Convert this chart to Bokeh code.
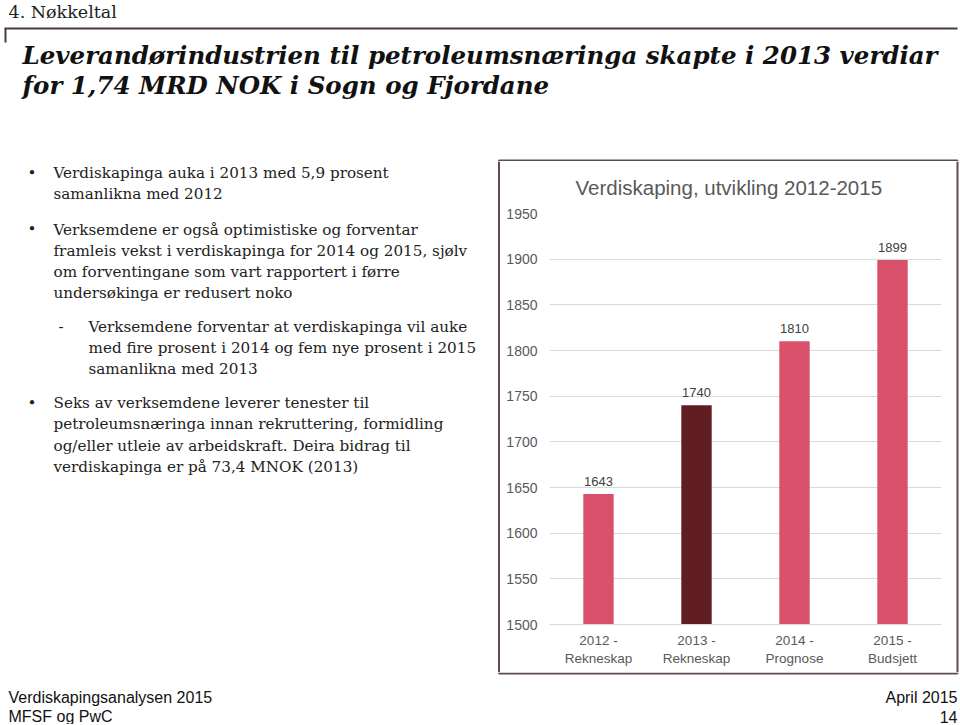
from bokeh.plotting import figure
from bokeh.layouts import column, row
from bokeh.models import Range1d, FactorRange, ColumnDataSource, FixedTicker
from bokeh.core.properties import value
from bokeh.embed import file_html
from bokeh.resources import INLINE

# ---------------- data ----------------
categories = ["2012 -\nRekneskap", "2013 -\nRekneskap", "2014 -\nPrognose", "2015 -\nBudsjett"]
values = [1643, 1740, 1810, 1899]
bar_colors = ["#D9506B", "#611E22", "#D9506B", "#D9506B"]
y_ticks = [1500, 1550, 1600, 1650, 1700, 1750, 1800, 1850, 1900, 1950]
y_start, y_end = 1500, 1950
chart_title = "Verdiskaping, utvikling 2012-2015"

section_label = "4. Nøkkeltal"
slide_title = ["Leverandørindustrien til petroleumsnæringa skapte i 2013 verdiar",
               "for 1,74 MRD NOK i Sogn og Fjordane"]
bullet1 = ["Verdiskapinga auka i 2013 med 5,9 prosent", "samanlikna med 2012"]
bullet2 = ["Verksemdene er også optimistiske og forventar",
           "framleis vekst i verdiskapinga for 2014 og 2015, sjølv",
           "om forventingane som vart rapportert i førre",
           "undersøkinga er redusert noko"]
sub1 = ["Verksemdene forventar at verdiskapinga vil auke",
        "med fire prosent i 2014 og fem nye prosent i 2015",
        "samanlikna med 2013"]
bullet3 = ["Seks av verksemdene leverer tenester til",
           "petroleumsnæringa innan rekruttering, formidling",
           "og/eller utleie av arbeidskraft. Deira bidrag til",
           "verdiskapinga er på 73,4 MNOK (2013)"]
footer_left = ["Verdiskapingsanalysen 2015", "MFSF og PwC"]
footer_right = ["April 2015", "14"]

SERIF = value("DejaVu Serif")
SANS = value("Liberation Sans")
TEXT = "#222222"
GRAY = "#595959"
BOX = "#5e4c4c"

# page rows: header 0..161, middle 161..672, footer 672..724
TOP, MID_H, FOOT_H = 161, 511, 52
BOX_L, BOX_R = 498.5, 957


def text_fig(w, h):
    p = figure(width=w, height=h, x_range=Range1d(0, w), y_range=Range1d(h, 0),
               output_backend="svg", toolbar_location=None, min_border=0,
               x_axis_location=None, y_axis_location=None)
    p.grid.visible = False
    p.outline_line_color = None
    p.background_fill_color = "white"
    p.border_fill_color = "white"
    return p


# ---------------- header ----------------
W = 960
header = text_fig(W, TOP)
header.text(x=[8], y=[11], text=[section_label], text_font=SERIF, text_font_size="17.5px",
            text_baseline="middle", text_color=TEXT)
header.line(x=[4, 957], y=[28, 28], line_color="#4a3a38", line_width=2)
header.line(x=[5, 5], y=[28, 42], line_color="#4a3a38", line_width=2)
header.text(x=[22, 22], y=[55, 85], text=slide_title, text_font=SERIF, text_font_size="24.5px",
            text_font_style="bold italic", text_baseline="middle", text_color="#111111")
# chart box: top edge + start of the sides
header.line(x=[BOX_L, BOX_L, BOX_R, BOX_R], y=[TOP, 160, 160, TOP], line_color=BOX, line_width=2)

# ---------------- left text ----------------
left = text_fig(500, MID_H)


def put_lines(x_ref, y_refs, lines):
    left.text(x=[x_ref] * len(lines), y=[y - TOP for y in y_refs], text=lines,
              text_font=SERIF, text_font_size="15.2px", text_baseline="middle", text_color=TEXT)


put_lines(27, [172, 228, 402], ["•", "•", "•"])
put_lines(58, [326], ["-"])
put_lines(53, [172, 193], bullet1)
put_lines(53, [229, 250, 271, 292], bullet2)
put_lines(88, [326, 347, 368], sub1)
put_lines(53, [402, 423, 445, 466], bullet3)
left.line(x=[BOX_L, BOX_L], y=[0, MID_H], line_color=BOX, line_width=2)

# ---------------- chart (page x 500..952) ----------------
CW = 452
src = ColumnDataSource(data=dict(cat=categories, val=values, color=bar_colors,
                                 label=[str(v) for v in values]))
chart = figure(width=CW, height=MID_H, x_range=FactorRange(factors=categories),
               y_range=Range1d(y_start, y_end), output_backend="svg", toolbar_location=None,
               min_border_left=49, min_border_right=11, min_border_top=52, min_border_bottom=48,
               title=chart_title)
chart.outline_line_color = None
chart.background_fill_color = "white"
chart.border_fill_color = "white"

chart.title.align = "left"
chart.title.offset = 26
chart.title.vertical_align = "top"
chart.title.standoff = 26
chart.title.text_font = "Liberation Sans"
chart.title.text_font_size = "20.5px"
chart.title.text_font_style = "normal"
chart.title.text_color = GRAY

chart.vbar(x="cat", top="val", bottom=y_start, width=0.31, fill_color="color",
           line_color=None, source=src)
chart.text(x="cat", y="val", text="label", source=src, y_offset=-8, text_align="center",
           text_baseline="bottom", text_font=SANS, text_font_size="13px", text_color="#404040")

chart.xgrid.visible = False
chart.ygrid.ticker = FixedTicker(ticks=y_ticks)
chart.ygrid.grid_line_color = "#d9d9d9"
chart.yaxis.ticker = FixedTicker(ticks=y_ticks)
chart.yaxis.axis_line_color = None
chart.yaxis.major_tick_line_color = None
chart.yaxis.minor_tick_line_color = None
chart.yaxis.major_tick_out = 0
chart.yaxis.major_label_standoff = 12
chart.xaxis.axis_line_color = "#d9d9d9"
chart.xaxis.major_tick_line_color = None
chart.xaxis.major_tick_out = 0
chart.xaxis.major_label_standoff = 8
for ax in (chart.xaxis, chart.yaxis):
    ax.major_label_text_font = "Liberation Sans"
    ax.major_label_text_color = GRAY
chart.xaxis.major_label_text_font_size = "13.5px"
chart.yaxis.major_label_text_font_size = "14px"

# ---------------- right strip (page x 952..960) with the box's right edge ----------------
strip = text_fig(8, MID_H)
strip.line(x=[BOX_R - 952, BOX_R - 952], y=[0, MID_H], line_color=BOX, line_width=2)

# ---------------- footer ----------------
footer = text_fig(W, FOOT_H)
footer.line(x=[BOX_L, BOX_L, BOX_R, BOX_R], y=[0, 1, 1, 0], line_color=BOX, line_width=2)
footer.text(x=[8, 8], y=[25, 44], text=footer_left, text_font=SANS, text_font_size="16px",
            text_baseline="middle", text_color="#111111")
footer.text(x=[957, 957], y=[25, 44], text=footer_right, text_font=SANS, text_font_size="16px",
            text_baseline="middle", text_align="right", text_color="#111111")

layout = column(header, row(column(left), column(chart), column(strip)), footer)
with open("out.html", "w") as f:
    f.write(file_html(layout, INLINE))
